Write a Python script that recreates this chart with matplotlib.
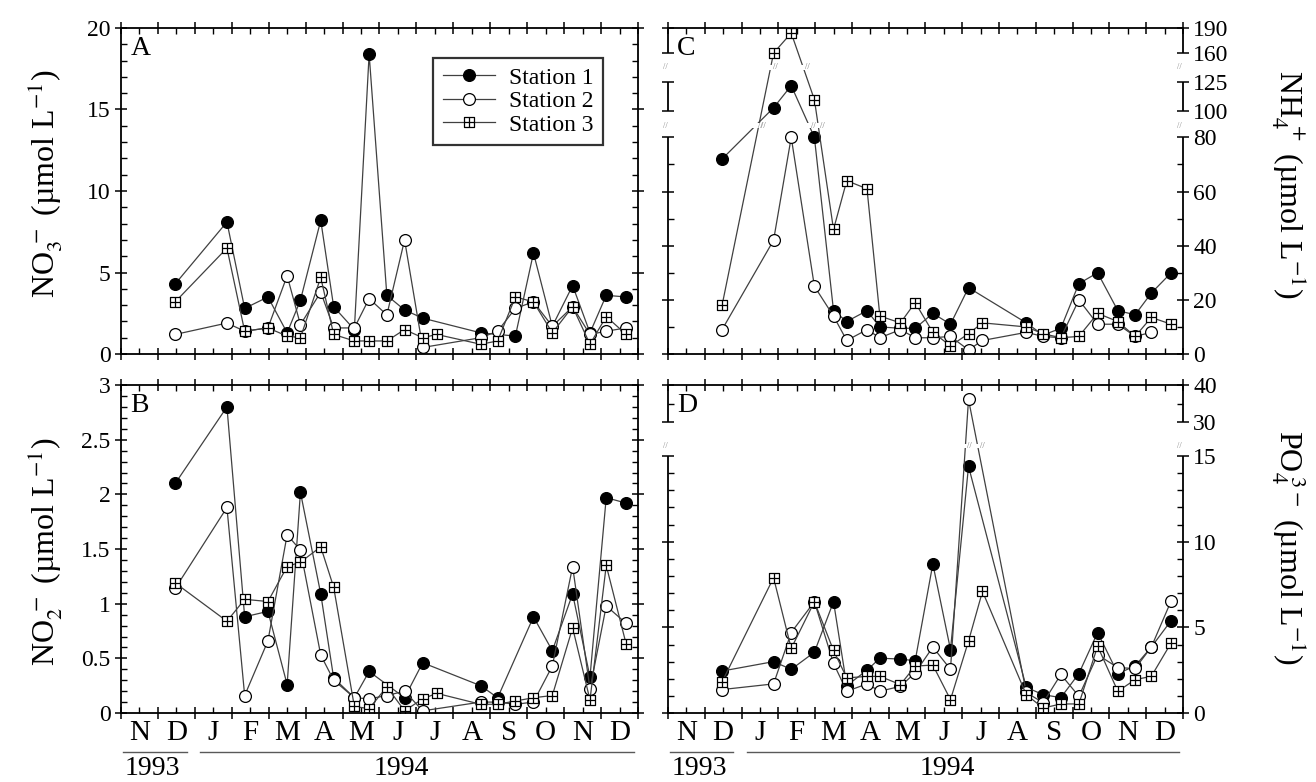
import numpy as np
import matplotlib
matplotlib.use("Agg")
import matplotlib.pyplot as plt
import matplotlib.transforms as mtransforms
from matplotlib.path import Path
from matplotlib.ticker import FixedLocator, MultipleLocator, NullFormatter

plt.rcParams['font.family'] = ['Liberation Serif', 'DejaVu Serif']
plt.rcParams['mathtext.fontset'] = 'stix'
plt.rcParams['axes.linewidth'] = 1.3

nan = np.nan

# sampling dates, in months after 1 Nov 1993
dates = [1.47, 2.87, 3.35, 3.98, 4.5, 4.86, 5.41, 5.76, 6.32, 6.72, 7.2, 7.68,
         8.17, 8.55, 9.74, 10.2, 10.68, 11.17, 11.68, 12.23, 12.7, 13.14, 13.68]
months = ['N', 'D', 'J', 'F', 'M', 'A', 'M', 'J', 'J', 'A', 'S', 'O', 'N', 'D']
stations = ['Station 1', 'Station 2', 'Station 3']

# NO3- (umol/L)
no3_st1 = [4.3, 8.1, 2.8, 3.5, 1.3, 3.3, 8.2, 2.9, 1.5, 18.4, 3.6, 2.7, 2.2, nan,
           1.3, nan, 1.1, 6.2, 1.7, 4.2, 1.3, 3.6, 3.5]
no3_st2 = [1.2, 1.9, 1.4, 1.6, 4.8, 1.8, 3.8, 1.6, 1.6, 3.4, 2.4, 7.0, 0.4, nan,
           1.0, 1.4, 2.8, 3.2, 1.7, 2.9, 1.2, 1.4, 1.6]
no3_st3 = [3.2, 6.5, 1.4, 1.6, 1.1, 1.0, 4.7, 1.2, 0.8, 0.8, 0.8, 1.5, 1.0, 1.2,
           0.6, 0.8, 3.5, 3.2, 1.3, 2.9, 0.6, 2.3, 1.2]

# NO2- (umol/L)
no2_st1 = [2.1, 2.8, 0.88, 0.93, 0.26, 2.02, 1.09, 0.32, 0.14, 0.38, nan, 0.14, 0.46, nan,
           0.25, 0.14, nan, 0.88, 0.57, 1.09, 0.33, 1.97, 1.92]
no2_st2 = [1.14, 1.88, 0.16, 0.66, 1.63, 1.49, 0.53, 0.3, 0.14, 0.13, 0.16, 0.2, 0.02, nan,
           0.1, 0.1, 0.08, 0.1, 0.43, 1.34, 0.22, 0.98, 0.82]
no2_st3 = [1.19, 0.84, 1.04, 1.02, 1.34, 1.38, 1.52, 1.15, 0.06, 0.04, 0.24, 0.02, 0.13, 0.18,
           0.08, 0.08, 0.11, 0.14, 0.16, 0.78, 0.12, 1.35, 0.63]

# NH4+ (umol/L)
nh4_st1 = [72, 103, 122, 80, 16, 12, 16, 10, 9.5, 9.5, 15, 11, 24.5, nan,
           11.5, 7, 9.5, 26, 30, 16, 14.5, 22.5, 30]
nh4_st2 = [9, 42, 80, 25, 14, 5, 9, 6, 9, 6, 6, 6.5, 1.5, 5,
           8, 6.5, 6, 20, 11, 11, 6.5, 8, nan]
nh4_st3 = [18, 160, 184, 110, 46, 64, 61, 14, 11.5, 19, 8, 3, 7.5, 11.5,
           10, 7.5, 6, 6.5, 15, 12, 6.5, 13.5, 11]

# PO4 3- (umol/L)
po4_st1 = [2.45, 3.0, 2.55, 3.55, 6.5, 1.6, 2.5, 3.2, 3.15, 3.05, 8.7, 3.7, 14.4, nan,
           1.5, 1.07, 0.9, 2.3, 4.7, 2.3, 2.75, 3.85, 5.4]
po4_st2 = [1.37, 1.7, 4.7, 6.5, 2.9, 1.27, 1.7, 1.27, 1.56, 2.35, 3.85, 2.55, 36.1, nan,
           1.2, 0.6, 2.25, 0.98, 3.4, 2.65, 2.6, 3.85, 6.55]
po4_st3 = [1.82, 7.9, 3.77, 6.5, 3.65, 2.05, 2.14, 2.14, 1.66, 2.74, 2.8, 0.78, 4.2, 7.1,
           1.07, 0.29, 0.53, 0.53, 3.9, 1.27, 1.95, 2.14, 4.1]

# broken right-hand axes: value breakpoints and their height in pixels
nh4_vals, nh4_pos = [0, 80, 100, 125, 160, 190], [0, 216, 242, 271, 300, 325]
po4_vals, po4_pos = [0, 15, 30, 40], [0, 257, 291, 328]

# square with a cross, used for station 3
box = Path([(-1, -1), (1, -1), (1, 1), (-1, 1), (-1, -1), (0, -1), (0, 1), (-1, 0), (1, 0)],
           [Path.MOVETO, Path.LINETO, Path.LINETO, Path.LINETO, Path.CLOSEPOLY,
            Path.MOVETO, Path.LINETO, Path.MOVETO, Path.LINETO])
styles = [dict(marker='o', mfc='black', ms=8.5),
          dict(marker='o', mfc='white', ms=8.5),
          dict(marker=box, mfc='white', ms=7.5)]


def piecewise(vals, pos):
    v = np.array(vals, float)
    p = np.array(pos, float)
    s0 = (p[1] - p[0]) / (v[1] - v[0])
    s1 = (p[-1] - p[-2]) / (v[-1] - v[-2])
    v = np.r_[v[0] - 1e4, v, v[-1] + 1e4]
    p = np.r_[p[0] - 1e4 * s0, p, p[-1] + 1e4 * s1]
    return (lambda x: np.interp(x, v, p)), (lambda x: np.interp(x, p, v))


def draw_series(ax, series, labels=None):
    x = np.array(dates)
    out = []
    for i, vals in enumerate(series):
        y = np.array(vals, float)
        ok = ~np.isnan(y)
        ax.plot(x[ok], y[ok], color='0.25', lw=0.9, mec='black', mew=0.9, zorder=2,
                label=None if labels is None else labels[i], **styles[i])
        out.append((x[ok], y[ok]))
    return out


def style_axes(ax, bottom):
    ax.set_xlim(0, 14)
    ax.xaxis.set_major_locator(FixedLocator(np.arange(0, 15)))
    ax.xaxis.set_major_formatter(NullFormatter())
    ax.xaxis.set_minor_locator(FixedLocator(np.arange(14) + 0.5))
    ax.tick_params(axis='both', which='major', direction='inout', length=8, width=1.1,
                   labelsize=17, top=True, right=True)
    ax.tick_params(axis='both', which='minor', direction='in', length=4, width=1,
                   top=True, right=True)
    if bottom:
        ax.set_xticks(np.arange(14) + 0.5, months, minor=True)
        ax.tick_params(axis='x', which='minor', labelsize=21, pad=5)
        trans = mtransforms.blended_transform_factory(ax.transData, ax.transAxes)
        ax.plot([0.05, 1.78], [-0.118, -0.118], transform=trans, clip_on=False, color='0.35', lw=1)
        ax.plot([2.15, 13.9], [-0.118, -0.118], transform=trans, clip_on=False, color='0.35', lw=1)
        ax.text(0.85, -0.168, '1993', transform=trans, ha='center', va='center', fontsize=20)
        ax.text(7.6, -0.168, '1994', transform=trans, ha='center', va='center', fontsize=20)


def break_axis(ax, vals, pos, segments, bands, lines):
    fwd, inv = piecewise(vals, pos)
    ax.set_yscale('function', functions=(fwd, inv))
    ax.spines['left'].set_visible(False)
    ax.spines['right'].set_visible(False)
    tr = ax.get_yaxis_transform()
    for lo, hi in segments:
        for xs in (0, 1):
            ax.plot([xs, xs], [lo, hi], transform=tr, clip_on=False, color='black', lw=1.3,
                    solid_capstyle='butt')
    for lo, hi in bands:
        ax.axhspan(lo, hi, color='white', zorder=3, lw=0)
        mid = 0.5 * (lo + hi)
        for xs in (0, 1):
            ax.text(xs - 0.006, mid, '//', transform=tr, ha='center', va='center',
                    fontsize=6, color='0.55', zorder=4)
        # small break marks where a line passes through the gap
        for x, y in lines:
            for i in range(len(x) - 1):
                if (y[i] - mid) * (y[i + 1] - mid) < 0:
                    t0, t1, tm = fwd(y[i]), fwd(y[i + 1]), fwd(mid)
                    xc = x[i] + (x[i + 1] - x[i]) * (tm - t0) / (t1 - t0)
                    ax.text(xc + 0.12, mid, '//', ha='center', va='center',
                            fontsize=6, color='0.45', zorder=4)


fig = plt.figure(figsize=(13.16, 7.82), dpi=100)
axA = fig.add_axes([0.0919, 0.5473, 0.3929, 0.4169])
axC = fig.add_axes([0.5076, 0.5473, 0.3913, 0.4169])
axB = fig.add_axes([0.0919, 0.0882, 0.3929, 0.4194])
axD = fig.add_axes([0.5076, 0.0882, 0.3913, 0.4194])

# A: nitrate
draw_series(axA, [no3_st1, no3_st2, no3_st3], stations)
style_axes(axA, False)
axA.set_ylim(0, 20)
axA.yaxis.set_major_locator(MultipleLocator(5))
axA.yaxis.set_minor_locator(MultipleLocator(1))
leg = axA.legend(loc='upper right', bbox_to_anchor=(0.955, 0.945), fontsize=17,
                 frameon=True, fancybox=False, edgecolor='black', handlelength=2.2,
                 labelspacing=0.08, borderpad=0.4, handletextpad=0.6)
leg.get_frame().set_linewidth(1.6)

# B: nitrite
draw_series(axB, [no2_st1, no2_st2, no2_st3])
style_axes(axB, True)
axB.set_ylim(0, 3)
axB.yaxis.set_major_locator(MultipleLocator(0.5))
axB.yaxis.set_minor_locator(MultipleLocator(0.1))
axB.yaxis.set_major_formatter(plt.FuncFormatter(lambda v, p: '%g' % v))

# C: ammonium, broken scale
linesC = draw_series(axC, [nh4_st1, nh4_st2, nh4_st3])
style_axes(axC, False)
break_axis(axC, nh4_vals, nh4_pos, [(0, 80), (100, 125), (160, 190)], [(87, 91), (140, 146)], linesC)
axC.set_ylim(0, 190)
axC.yaxis.set_major_locator(FixedLocator([0, 20, 40, 60, 80, 100, 125, 160, 190]))
axC.yaxis.set_minor_locator(FixedLocator([10, 30, 50, 70]))
axC.yaxis.set_major_formatter(plt.FuncFormatter(lambda v, p: '%g' % v))
axC.yaxis.set_minor_formatter(NullFormatter())
axC.tick_params(axis='y', which='both', left=True, right=True, labelleft=False, labelright=True)

# D: phosphate, broken scale
linesD = draw_series(axD, [po4_st1, po4_st2, po4_st3])
style_axes(axD, True)
break_axis(axD, po4_vals, po4_pos, [(0, 15), (30, 40)], [(18.5, 20.5)], linesD)
axD.set_ylim(0, 40)
axD.yaxis.set_major_locator(FixedLocator([0, 5, 10, 15, 30, 40]))
axD.yaxis.set_minor_locator(FixedLocator([1, 2, 3, 4, 6, 7, 8, 9, 11, 12, 13, 14, 35]))
axD.yaxis.set_major_formatter(plt.FuncFormatter(lambda v, p: '%g' % v))
axD.yaxis.set_minor_formatter(NullFormatter())
axD.tick_params(axis='y', which='both', left=True, right=True, labelleft=False, labelright=True)

for ax, letter in zip([axA, axB, axC, axD], 'ABCD'):
    ax.text(0.018, 0.975, letter, transform=ax.transAxes, ha='left', va='top', fontsize=20)

fig.text(0.034, 0.765, 'NO$_3^{\\;-}$ (\u00b5mol L$^{-1}$)', rotation=90, ha='center', va='center', fontsize=23)
fig.text(0.034, 0.295, 'NO$_2^{\\;-}$ (\u00b5mol L$^{-1}$)', rotation=90, ha='center', va='center', fontsize=23)
fig.text(0.979, 0.765, 'NH$_4^{\\;+}$ (\u00b5mol L$^{-1}$)', rotation=270, ha='center', va='center', fontsize=23)
fig.text(0.979, 0.30, 'PO$_4^{\\;3-}$ (\u00b5mol L$^{-1}$)', rotation=270, ha='center', va='center', fontsize=23)

fig.savefig('out.png', dpi=100)
